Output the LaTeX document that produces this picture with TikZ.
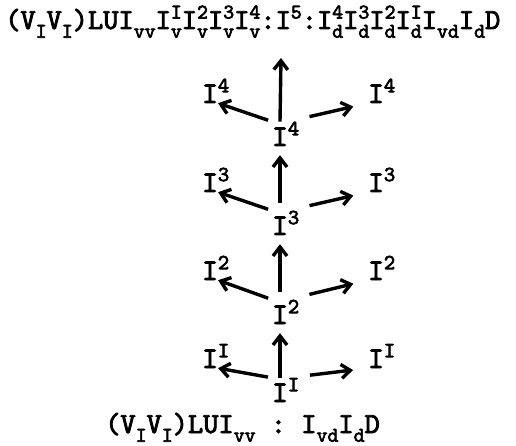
\documentclass[tikz,border=0pt]{standalone}
\usepackage{fontspec}
\setmonofont{lmmono10-regular.otf}[AutoFakeBold=3]
\usetikzlibrary{arrows.meta}

% raised / lowered indices, typewriter style
\newcommand{\up}[1]{\raisebox{0.36em}{\scalebox{0.72}{#1}}}
\newcommand{\dn}[1]{\raisebox{-0.3em}{\scalebox{0.72}{#1}}}
\newcommand{\ud}[2]{\rlap{\up{#1}}\dn{#2}}

\begin{document}
\begin{tikzpicture}[
		x=1pt, y=-1pt,
		txt/.style = {font=\ttfamily\bfseries\fontsize{29}{29}\selectfont, inner sep=0pt, anchor=base west},
		t/.style = {font=\ttfamily\bfseries\fontsize{30}{30}\selectfont, inner sep=0pt, anchor=base},
		r/.style = {-{Straight Barb[length=9pt,width=14pt]}, line width=3.4pt}
		]
		\useasboundingbox (0,0) rectangle (516,446);
		
		%Nodes
		\node[txt]	(head)	at	(5, 29)	{(V\dn{I}V\dn{I})LUI\dn{vv}I\ud{I}{v}I\ud{2}{v}I\ud{3}{v}I\ud{4}{v}:I\up{5}:I\ud{4}{d}I\ud{3}{d}I\ud{2}{d}I\ud{I}{d}I\dn{vd}I\dn{d}D};
		\node[txt]	(foot)	at	(105, 433)	{(V\dn{I}V\dn{I})LUI\dn{vv} : I\dn{vd}I\dn{d}D};
		\coordinate	(top)	at	(281, 58);
		
		\node[t]	(c4)	at	(280, 146)	{I\rlap{\up{4}}};
		\node[t]	(c3)	at	(280, 235)	{I\rlap{\up{3}}};
		\node[t]	(c2)	at	(280, 324)	{I\rlap{\up{2}}};
		\node[t]	(c1)	at	(280, 402)	{I\rlap{\up{I}}};
		
		\node[t]	(l4)	at	(210, 103)	{I\rlap{\up{4}}};
		\node[t]	(l3)	at	(210, 192)	{I\rlap{\up{3}}};
		\node[t]	(l2)	at	(210, 280)	{I\rlap{\up{2}}};
		\node[t]	(l1)	at	(210, 368)	{I\rlap{\up{I}}};
		
		\node[t]	(r4)	at	(376, 103)	{I\rlap{\up{4}}};
		\node[t]	(r3)	at	(376, 192)	{I\rlap{\up{3}}};
		\node[t]	(r2)	at	(376, 280)	{I\rlap{\up{2}}};
		\node[t]	(r1)	at	(376, 368)	{I\rlap{\up{I}}};
		
		%Lines
		\draw[r, shorten >=9pt]	(c1.north)	--	(c2.south);
		\draw[r, shorten >=9pt, shorten <=8pt]	(c2.north)	--	(c3.south);
		\draw[r, shorten >=9pt, shorten <=8pt]	(c3.north)	--	(c4.south);
		\draw[r]	(c4.north)	--	(top);
		
		\draw[r, shorten <=4pt]	(c4.north west)	--	(l4.south east);
		\draw[r, shorten <=4pt]	(c3.north west)	--	(l3.south east);
		\draw[r, shorten <=4pt]	(c2.north west)	--	(l2.south east);
		\draw[r, shorten <=4pt]	(c1.north west)	--	(l1.south east);
		
		\draw[r, shorten <=22pt, shorten >=15pt]	(c4.north east)	--	(r4.south west);
		\draw[r, shorten <=22pt, shorten >=15pt]	(c3.north east)	--	(r3.south west);
		\draw[r, shorten <=22pt, shorten >=15pt]	(c2.north east)	--	(r2.south west);
		\draw[r, shorten <=22pt, shorten >=15pt]	(c1.north east)	--	(r1.south west);
	\end{tikzpicture}
\end{document}
